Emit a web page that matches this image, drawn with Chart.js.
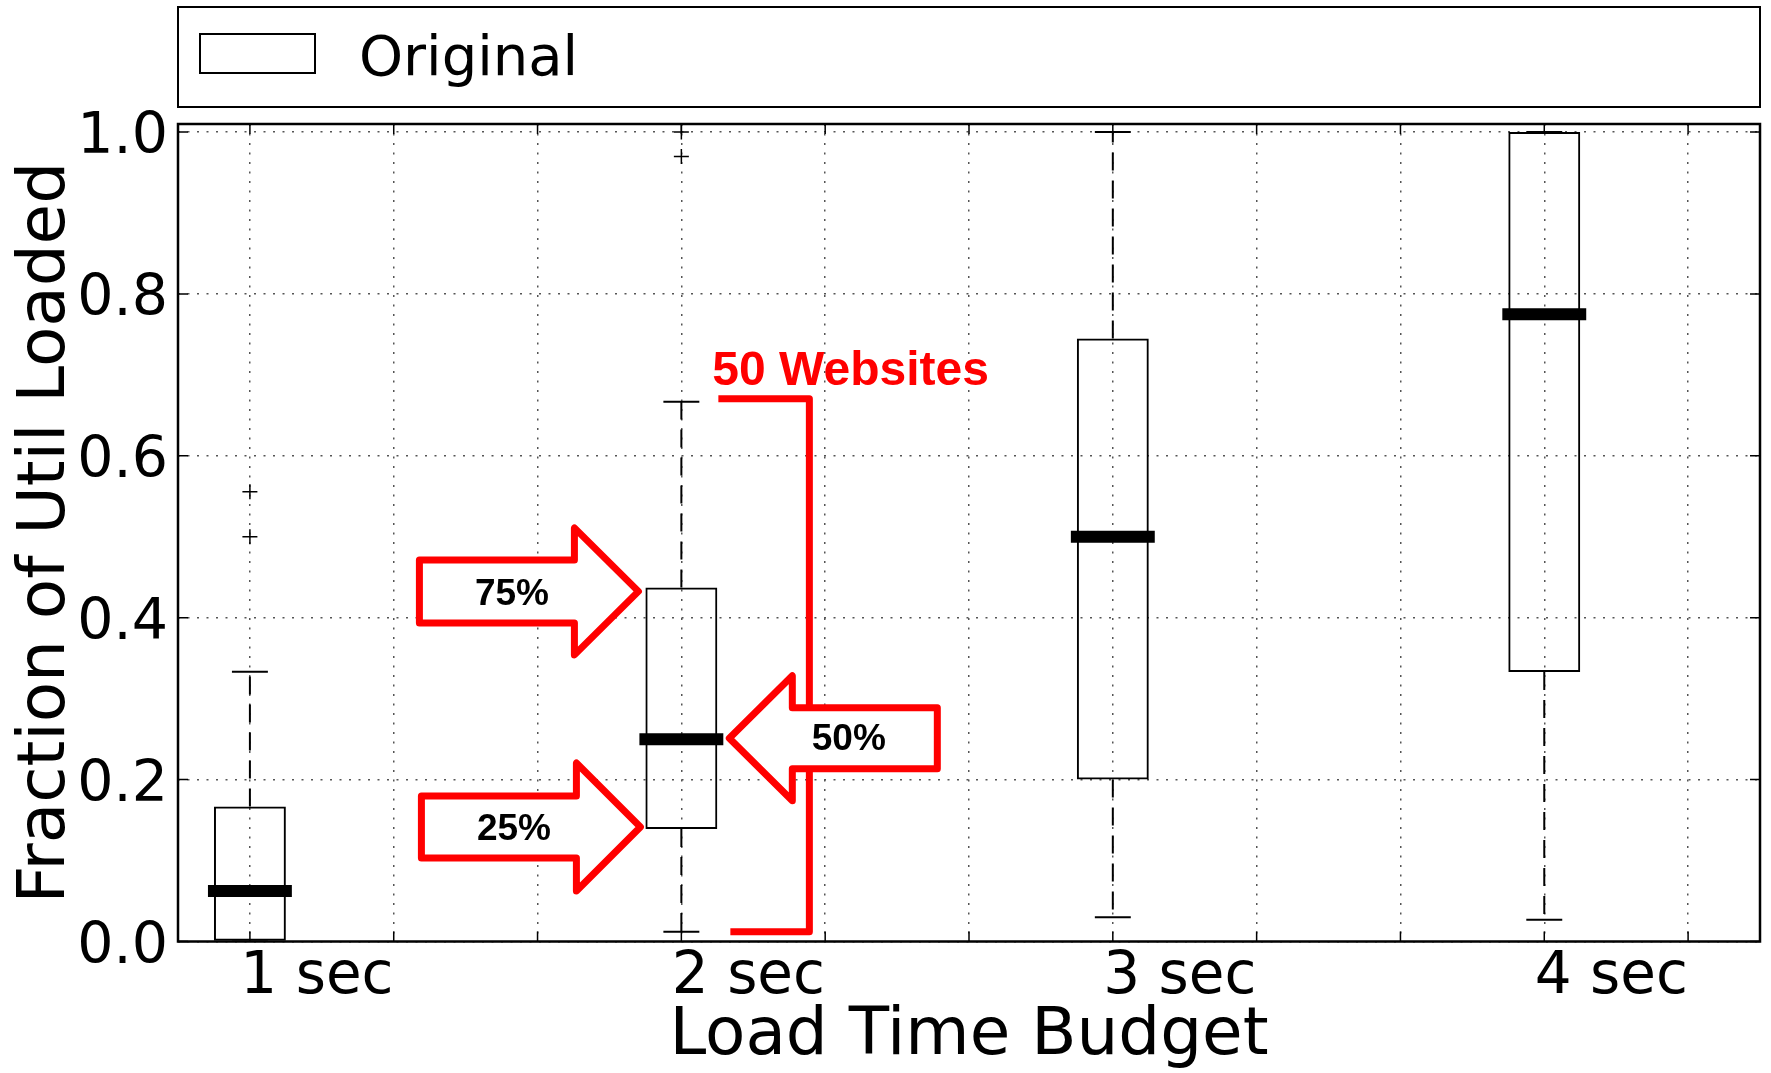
<!DOCTYPE html>
<html>
<head>
<meta charset="utf-8">
<title>Fraction of Util Loaded by Load Time Budget</title>
<script src="https://cdn.jsdelivr.net/npm/chart.js@4.4.1/dist/chart.umd.min.js"></script>
<style>
  html, body { margin: 0; padding: 0; background: #fff; }
  canvas { display: block; }
</style>
</head>
<body>
<canvas id="chart" width="1771" height="1073"></canvas>
<script>
// ---- data ----
const categories  = ['1 sec', '2 sec', '3 sec', '4 sec'];
const positions   = [1, 4, 7, 10];
const whiskerLow  = [0.0,    0.012,  0.030, 0.027];
const quartile1   = [0.0,    0.139,  0.200, 0.333];
const medians     = [0.0625, 0.250,  0.500, 0.775];
const quartile3   = [0.1667, 0.4375, 0.745, 1.0];
const whiskerHigh = [0.3333, 0.6667, 1.0,   1.0];
const outliers    = [[0.5556, 0.5], [1.0, 0.97], [], []];
const xTicks      = [1, 2, 3, 4, 5, 6, 7, 8, 9, 10, 11];
const yTicks      = [0, 0.2, 0.4, 0.6, 0.8, 1.0];
const seriesName  = 'Original';

// callouts on the '2 sec' box
const calloutIndex = 1;
const upperLabel   = '75%';
const middleLabel  = '50%';
const lowerLabel   = '25%';
const countLabel   = '50 Websites';

// ---- derived datasets ----
const BOX_WIDTH = 0.5;            // in x units
const CAP_HALF  = BOX_WIDTH / 4;

const boxData = positions.map((p, i) => ({ x: p, y: [quartile1[i], quartile3[i]] }));

const whiskerData = [];
const capData = [];
const medianData = [];
positions.forEach((p, i) => {
  whiskerData.push({ x: p, y: quartile3[i] }, { x: p, y: whiskerHigh[i] }, { x: p, y: null });
  whiskerData.push({ x: p, y: quartile1[i] }, { x: p, y: whiskerLow[i] }, { x: p, y: null });
  capData.push({ x: p - CAP_HALF, y: whiskerHigh[i] }, { x: p + CAP_HALF, y: whiskerHigh[i] }, { x: p, y: null });
  capData.push({ x: p - CAP_HALF, y: whiskerLow[i] }, { x: p + CAP_HALF, y: whiskerLow[i] }, { x: p, y: null });
  medianData.push({ x: p - BOX_WIDTH / 2, y: medians[i] }, { x: p + BOX_WIDTH / 2, y: medians[i] }, { x: p, y: null });
});
const outlierData = [];
positions.forEach((p, i) => outliers[i].forEach(v => outlierData.push({ x: p, y: v })));

const lineBase = {
  type: 'line', showLine: true, fill: false, spanGaps: false, tension: 0,
  pointRadius: 0, pointHoverRadius: 0, borderColor: '#000', borderWidth: 2
};

// ---- plugins ----
const whiteBackground = {
  id: 'whiteBackground',
  beforeDraw(chart) {
    const { ctx, width, height } = chart;
    ctx.save();
    ctx.fillStyle = '#fff';
    ctx.fillRect(0, 0, width, height);
    ctx.restore();
  }
};

// full frame plus inward tick marks on all four sides
const frameAndTicks = {
  id: 'frameAndTicks',
  afterDatasetsDraw(chart) {
    const { ctx, chartArea: a, scales: { x, y } } = chart;
    const len = 10;
    ctx.save();
    ctx.strokeStyle = '#000';
    ctx.lineWidth = 1.5;
    ctx.beginPath();
    x.ticks.forEach(t => {
      const px = x.getPixelForValue(t.value);
      ctx.moveTo(px, a.bottom); ctx.lineTo(px, a.bottom - len);
      ctx.moveTo(px, a.top);    ctx.lineTo(px, a.top + len);
    });
    y.ticks.forEach(t => {
      const py = y.getPixelForValue(t.value);
      ctx.moveTo(a.left, py);  ctx.lineTo(a.left + len, py);
      ctx.moveTo(a.right, py); ctx.lineTo(a.right - len, py);
    });
    ctx.stroke();
    ctx.lineWidth = 2.5;
    ctx.strokeRect(a.left, a.top, a.right - a.left, a.bottom - a.top);
    ctx.restore();
  }
};

function blockArrow(ctx, tipX, tipY, dir, bodyLen, headLen, bodyHalf, headHalf) {
  const baseX = tipX - dir * headLen;
  const tailX = baseX - dir * bodyLen;
  ctx.beginPath();
  ctx.moveTo(tipX, tipY);
  ctx.lineTo(baseX, tipY - headHalf);
  ctx.lineTo(baseX, tipY - bodyHalf);
  ctx.lineTo(tailX, tipY - bodyHalf);
  ctx.lineTo(tailX, tipY + bodyHalf);
  ctx.lineTo(baseX, tipY + bodyHalf);
  ctx.lineTo(baseX, tipY + headHalf);
  ctx.closePath();
  ctx.fillStyle = '#fff';
  ctx.fill();
  ctx.stroke();
}

// red quartile callouts and the sample-size bracket
const callouts = {
  id: 'callouts',
  afterDatasetsDraw(chart) {
    const { ctx, scales: { y } } = chart;
    const bar = chart.getDatasetMeta(0).data[calloutIndex];
    const left = bar.x - bar.width / 2;
    const right = bar.x + bar.width / 2;
    const red = '#ff0000';
    ctx.save();
    ctx.strokeStyle = red;
    ctx.lineWidth = 7;
    ctx.lineJoin = 'round';
    ctx.lineCap = 'butt';

    // bracket spanning the whisker range
    const bx = bar.x + 128;
    const topY = y.getPixelForValue(whiskerHigh[calloutIndex]) - 3;
    const botY = y.getPixelForValue(whiskerLow[calloutIndex]);
    ctx.beginPath();
    ctx.moveTo(bar.x + 37, topY);
    ctx.lineTo(bx, topY);
    ctx.lineTo(bx, botY);
    ctx.lineTo(bar.x + 49, botY);
    ctx.stroke();

    ctx.fillStyle = red;
    ctx.font = 'bold 48px "Liberation Sans", Arial, sans-serif';
    ctx.textAlign = 'left';
    ctx.textBaseline = 'alphabetic';
    ctx.fillText(countLabel, bar.x + 31, topY - 14);

    // arrows
    const t75 = { x: left - 7, y: y.getPixelForValue(quartile3[calloutIndex]) + 4 };
    const t25 = { x: left - 5, y: y.getPixelForValue(quartile1[calloutIndex]) - 2 };
    const t50 = { x: right + 12, y: y.getPixelForValue(medians[calloutIndex]) - 1 };
    blockArrow(ctx, t75.x, t75.y, 1, 155, 64, 31.5, 63.5);
    blockArrow(ctx, t25.x, t25.y, 1, 155, 64, 31, 64);
    blockArrow(ctx, t50.x, t50.y, -1, 145, 63, 30.5, 62.5);

    ctx.fillStyle = '#000';
    ctx.font = 'bold 37px "Liberation Sans", Arial, sans-serif';
    ctx.textAlign = 'center';
    ctx.textBaseline = 'middle';
    ctx.fillText(upperLabel, t75.x - 126.5, t75.y + 3);
    ctx.fillText(lowerLabel, t25.x - 126.5, t25.y + 3);
    ctx.fillText(middleLabel, t50.x + 119.5, t50.y + 2);
    ctx.restore();
  }
};

// boxed legend across the top of the plot
const boxedLegend = {
  id: 'boxedLegend',
  afterDraw(chart) {
    const { ctx, chartArea: a } = chart;
    const ds = chart.data.datasets[0];
    ctx.save();
    ctx.strokeStyle = '#000';
    ctx.lineWidth = 2;
    ctx.strokeRect(a.left, 7, a.right - a.left, 100);
    ctx.fillStyle = '#fff';
    ctx.fillRect(200, 34, 115, 39);
    ctx.strokeRect(200, 34, 115, 39);
    ctx.fillStyle = '#000';
    ctx.font = '56px "DejaVu Sans"';
    ctx.textAlign = 'left';
    ctx.textBaseline = 'alphabetic';
    ctx.fillText(ds.label, 359, 75);
    ctx.restore();
  }
};

Chart.defaults.font.family = '"DejaVu Sans"';
Chart.defaults.color = '#000';

new Chart(document.getElementById('chart'), {
  type: 'bar',
  data: {
    datasets: [
      {
        label: seriesName,
        type: 'bar',
        data: boxData,
        backgroundColor: 'rgba(0,0,0,0)',
        borderColor: '#000',
        borderWidth: 2,
        borderSkipped: false,
        barPercentage: BOX_WIDTH,
        categoryPercentage: 1.0,
        order: 2
      },
      Object.assign({}, lineBase, { label: 'whiskers', data: whiskerData, borderDash: [18, 10], order: 3 }),
      Object.assign({}, lineBase, { label: 'caps', data: capData, order: 3 }),
      Object.assign({}, lineBase, { label: 'medians', data: medianData, borderWidth: 12, borderCapStyle: 'square', order: 0 }),
      {
        label: 'outliers',
        type: 'scatter',
        data: outlierData,
        pointStyle: 'cross',
        pointRadius: 7.5,
        pointHoverRadius: 7.5,
        borderColor: '#000',
        borderWidth: 1.5,
        order: 1
      }
    ]
  },
  options: {
    responsive: false,
    animation: false,
    devicePixelRatio: 1,
    events: [],
    layout: { padding: { top: 124, right: 11, bottom: 0, left: 0 } },
    plugins: {
      legend: { display: false },
      tooltip: { enabled: false }
    },
    scales: {
      x: {
        type: 'linear',
        min: 0.5,
        max: 11.5,
        offset: false,
        afterBuildTicks(scale) { scale.ticks = xTicks.map(v => ({ value: v })); },
        afterFit(scale) { scale.height = 131.5; },
        ticks: {
          autoSkip: false,
          maxRotation: 0,
          minRotation: 0,
          padding: 2,
          labelOffset: 67,
          font: { size: 58 },
          color: '#000',
          callback(value) {
            const i = positions.indexOf(value);
            return i >= 0 ? categories[i] : '';
          }
        },
        grid: { color: '#555', lineWidth: 1.5, drawTicks: false, offset: false },
        border: { display: false, dash: [2, 7.5] },
        title: {
          display: true,
          text: 'Load Time Budget',
          color: '#000',
          font: { size: 66, lineHeight: 1.1 },
          padding: { top: 0, bottom: 0 }
        }
      },
      y: {
        type: 'linear',
        min: 0,
        max: 1.01,
        afterBuildTicks(scale) { scale.ticks = yTicks.map(v => ({ value: v })); },
        afterFit(scale) { scale.width = 178; },
        ticks: {
          padding: 10,
          labelOffset: 6.5,
          font: { size: 57 },
          color: '#000',
          callback(value) { return value.toFixed(1); }
        },
        grid: { color: '#555', lineWidth: 1.5, drawTicks: false },
        border: { display: false, dash: [2, 7.5] },
        title: {
          display: true,
          text: 'Fraction of Util Loaded',
          color: '#000',
          font: { size: 66, lineHeight: 1.2 },
          padding: { top: 7.6, bottom: 0 }
        }
      }
    }
  },
  plugins: [whiteBackground, frameAndTicks, callouts, boxedLegend]
});
</script>
</body>
</html>
